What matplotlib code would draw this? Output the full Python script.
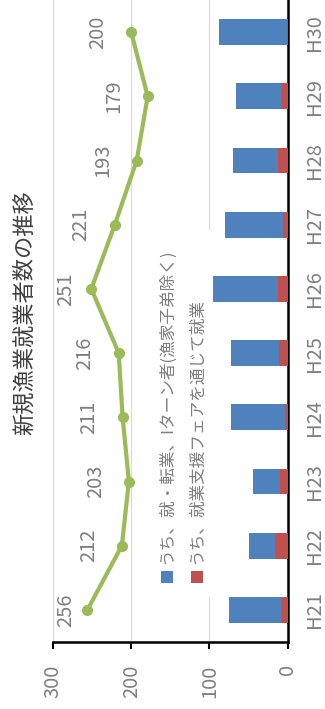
import matplotlib.pyplot as plt
from matplotlib.patches import Rectangle

plt.rcParams['font.family'] = ['Noto Sans CJK JP', 'DejaVu Sans']

years = ['H21', 'H22', 'H23', 'H24', 'H25', 'H26', 'H27', 'H28', 'H29', 'H30']
total = [256, 212, 203, 211, 216, 251, 221, 193, 179, 200]
fair = [8, 16, 10, 3, 11, 13, 6, 13, 8, 1]
iturn = [67, 34, 34, 69, 61, 82, 74, 57, 58, 87]

name_iturn = 'うち、就・転業、Iターン者(漁家子弟除く)'
name_fair = 'うち、就業支援フェアを通じて就業'
title = '新規漁業就業者数の推移'

blue = '#4F81BD'
red = '#C0504D'
green = '#9BBB59'
gray = '#7F7F7F'

W, H = 325, 709
fig = plt.figure(figsize=(W / 100, H / 100), dpi=100)


def fx(px):
    return px / W


def fy(py):
    return 1 - py / H


# the whole chart is laid on its side: values grow to the left
ax = fig.add_axes([fx(53), fy(642), fx(287.7) - fx(53), fy(0) - fy(642)])
pos = list(range(len(years)))

ax.barh(pos, fair, height=0.4, color=red, zorder=3)
ax.barh(pos, iturn, left=fair, height=0.4, color=blue, zorder=3)
ax.plot(total, pos, color=green, lw=3, marker='o', ms=7, zorder=4)

for i, v in enumerate(total):
    ax.text(min(v + 43, 284), i, str(v), rotation=90, ha='center', va='center',
            fontsize=14.5, color=gray, zorder=5)

ax.set_xlim(300, 0)
ax.set_ylim(-0.5, len(years) - 0.5)
ax.set_xticks([0, 100, 200, 300])
ax.set_yticks(pos)
ax.set_yticklabels(years)
ax.yaxis.tick_right()
ax.tick_params(axis='y', length=0, pad=12, labelsize=14.5, labelcolor=gray, labelrotation=90)
ax.tick_params(axis='x', length=5, width=1.5, pad=11, labelsize=14.5, labelcolor=gray,
               labelrotation=90)
for lab in ax.get_yticklabels():
    lab.set_verticalalignment('center')

ax.grid(axis='x', color='#D9D9D9', lw=0.8)
ax.set_axisbelow(True)
for s in ['top', 'left']:
    ax.spines[s].set_visible(False)
for s in ['right', 'bottom']:
    ax.spines[s].set_linewidth(1.8)
    ax.spines[s].set_color('black')

# legend, drawn by hand so the entries can stand upright like the rest
ax.add_patch(Rectangle((fx(148), fy(597)), fx(211) - fx(148), fy(230) - fy(597),
                       transform=fig.transFigure, facecolor='white', edgecolor='none', zorder=2))
for cx, col, name in [(166.7, blue, name_iturn), (196.8, red, name_fair)]:
    ax.add_patch(Rectangle((fx(cx - 6), fy(583)), fx(12), fy(571) - fy(583),
                           transform=fig.transFigure, facecolor=col, edgecolor='none', zorder=6))
    fig.text(fx(cx), fy(564), name, rotation=90, ha='center', va='bottom',
             fontsize=12, color=gray)

fig.text(fx(25), fy(313), title, rotation=90, ha='center', va='center',
         fontsize=16, color='#404040')

fig.savefig('out.png', dpi=100)
